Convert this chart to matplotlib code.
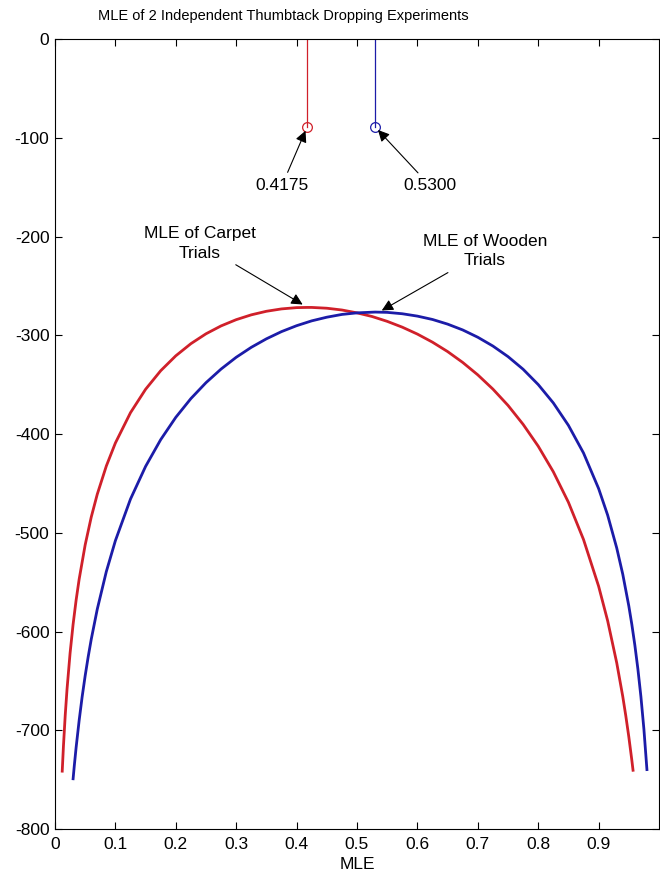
import matplotlib
matplotlib.use('Agg')
import matplotlib.pyplot as plt

plt.rcParams['font.family'] = ['Liberation Sans', 'DejaVu Sans']
plt.rcParams['axes.unicode_minus'] = False

# --- values ---
# carpet trials (red)
carpet_p = [0.012, 0.014, 0.017, 0.02, 0.025, 0.03, 0.035, 0.04, 0.05, 0.06, 0.07,
            0.085, 0.1, 0.125, 0.15, 0.175, 0.2, 0.225, 0.25, 0.275, 0.3, 0.325,
            0.35, 0.375, 0.4, 0.4175, 0.425, 0.45, 0.475, 0.5, 0.525, 0.55, 0.575,
            0.6, 0.625, 0.65, 0.675, 0.7, 0.725, 0.75, 0.775, 0.8, 0.825, 0.85,
            0.875, 0.9, 0.915, 0.93, 0.94, 0.945, 0.95, 0.955, 0.957]
carpet_ll = [-741.4, -716.2, -684.4, -658.0, -621.9, -592.7, -568.2, -547.1, -512.2,
             -484.2, -461.0, -432.4, -409.1, -378.4, -354.7, -335.9, -320.8, -308.5,
             -298.5, -290.5, -284.2, -279.3, -275.7, -273.3, -272.0, -271.8, -271.8,
             -272.6, -274.4, -277.3, -281.0, -285.9, -291.8, -298.8, -307.0, -316.5,
             -327.5, -340.1, -354.5, -371.0, -390.2, -412.3, -438.2, -469.1, -506.8,
             -554.1, -589.2, -631.7, -665.8, -685.3, -706.6, -730.3, -740.5]

# wooden trials (blue)
wooden_p = [0.03, 0.032, 0.035, 0.04, 0.045, 0.05, 0.055, 0.06, 0.07, 0.085, 0.1,
            0.125, 0.15, 0.175, 0.2, 0.225, 0.25, 0.275, 0.3, 0.325, 0.35, 0.375,
            0.4, 0.425, 0.45, 0.475, 0.5, 0.53, 0.55, 0.575, 0.6, 0.625, 0.65,
            0.675, 0.7, 0.725, 0.75, 0.775, 0.8, 0.825, 0.85, 0.875, 0.9, 0.915,
            0.93, 0.94, 0.95, 0.955, 0.96, 0.965, 0.97, 0.975, 0.98]
wooden_ll = [-749.1, -735.8, -717.4, -690.1, -666.0, -644.7, -625.5, -608.0, -577.4,
             -539.3, -508.0, -465.9, -432.8, -405.7, -383.1, -364.1, -348.0, -334.2,
             -322.3, -312.2, -303.6, -296.3, -290.3, -285.4, -281.7, -278.9, -277.3,
             -276.5, -276.8, -278.2, -280.6, -284.0, -288.7, -294.6, -302.0, -310.9,
             -321.6, -334.4, -349.9, -368.5, -391.2, -419.2, -455.2, -482.2, -515.4,
             -542.0, -574.1, -592.8, -613.8, -637.8, -665.7, -698.9, -739.8]

mle_values = [0.4175, 0.5300]
mle_marker_y = -89
mle_labels = ['0.4175', '0.5300']

x_ticks = [0, 0.1, 0.2, 0.3, 0.4, 0.5, 0.6, 0.7, 0.8, 0.9]
y_ticks = [0, -100, -200, -300, -400, -500, -600, -700, -800]

red = '#d0202a'
blue = '#1c1ca8'
fs = 12.5

fig = plt.figure(figsize=(6.6, 8.77), dpi=100)
ax = fig.add_axes([0.0833, 0.0547, 0.9152, 0.9008])

ax.plot(carpet_p, carpet_ll, color=red, linewidth=2.0)
ax.plot(wooden_p, wooden_ll, color=blue, linewidth=2.0)

# vertical MLE lines with open circles
for xv, col in zip(mle_values, [red, blue]):
    ax.plot([xv, xv], [0, mle_marker_y], color=col, linewidth=0.9)
    ax.plot(xv, mle_marker_y, marker='o', markersize=7, markerfacecolor='none',
            markeredgecolor=col, markeredgewidth=0.9, linestyle='None')

arrow = dict(arrowstyle='-|>', color='black', lw=0.8, mutation_scale=17,
             shrinkA=2, shrinkB=3)

ax.annotate(mle_labels[0], xy=(mle_values[0], mle_marker_y), xytext=(0.376, -148),
            ha='center', va='center', fontsize=fs, arrowprops=arrow)
ax.annotate(mle_labels[1], xy=(mle_values[1], mle_marker_y), xytext=(0.62, -148),
            ha='center', va='center', fontsize=fs, arrowprops=arrow)

ax.annotate('MLE of Carpet\nTrials', xy=(0.416, -271), xytext=(0.24, -207),
            ha='center', va='center', multialignment='center', fontsize=fs,
            linespacing=1.35, arrowprops=arrow)
ax.annotate('MLE of Wooden\nTrials', xy=(0.535, -277), xytext=(0.712, -215),
            ha='center', va='center', multialignment='center', fontsize=fs,
            linespacing=1.35, arrowprops=arrow)

ax.set_xlim(0, 1)
ax.set_ylim(-800, 0)
ax.set_xticks(x_ticks)
ax.set_xticklabels([('%g' % t) for t in x_ticks])
ax.set_yticks(y_ticks)
ax.set_yticklabels([('%d' % t) for t in y_ticks])
ax.tick_params(direction='in', length=5, width=0.8, top=True, right=True,
               labelsize=fs)
ax.tick_params(axis='x', pad=6)
ax.tick_params(axis='y', pad=4)
for s in ax.spines.values():
    s.set_linewidth(0.8)

ax.set_xlabel('MLE', fontsize=fs, labelpad=3)

fig.text(0.43, 1 - 16 / 877, 'MLE of 2 Independent Thumbtack Dropping Experiments',
         ha='center', va='center', fontsize=10.5)

fig.savefig('out.png', dpi=100)
